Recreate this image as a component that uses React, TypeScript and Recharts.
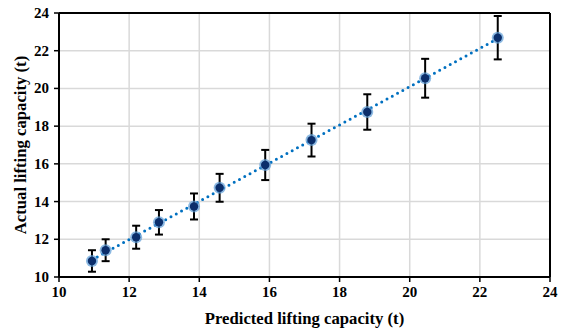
import React from "react";
import {
  ScatterChart,
  Scatter,
  XAxis,
  YAxis,
  CartesianGrid,
  ErrorBar,
  ReferenceLine,
} from "recharts";

const predicted = [10.94, 11.33, 12.2, 12.85, 13.85, 14.58, 15.88, 17.2, 18.79, 20.44, 22.51];
const actual = [10.85, 11.42, 12.11, 12.9, 13.74, 14.73, 15.94, 17.26, 18.75, 20.54, 22.69];
const errors = [0.57, 0.58, 0.61, 0.65, 0.69, 0.74, 0.8, 0.87, 0.94, 1.03, 1.15];
const ticks = [10, 12, 14, 16, 18, 20, 22, 24];

const data = predicted.map((x, i) => ({ x, y: actual[i], err: errors[i] }));

// linear trendline through the points (least squares)
const n = predicted.length;
const mx = predicted.reduce((a, b) => a + b, 0) / n;
const my = actual.reduce((a, b) => a + b, 0) / n;
let sxy = 0;
let sxx = 0;
predicted.forEach((x, i) => {
  sxy += (x - mx) * (actual[i] - my);
  sxx += (x - mx) * (x - mx);
});
const slope = sxy / sxx;
const intercept = my - slope * mx;
const x0 = Math.min(...predicted);
const x1 = Math.max(...predicted);

const font = "'Liberation Serif', 'Times New Roman', serif";
const tickText = { fontFamily: font, fontSize: 15, fontWeight: 700, fill: "#000" };

const XTick = (props: any) => {
  const { x, y, payload } = props;
  return (
    <text x={x} y={y + 13} textAnchor="middle" style={tickText}>
      {payload.value}
    </text>
  );
};

const YTick = (props: any) => {
  const { x, y, payload } = props;
  return (
    <text x={x - 3} y={y + 5} textAnchor="end" style={tickText}>
      {payload.value}
    </text>
  );
};

const Dot = (props: any) => {
  const { cx, cy } = props;
  if (cx == null || cy == null) return null;
  return (
    <g>
      <circle cx={cx} cy={cy} r={6} fill="#5B9BD5" opacity={0.7} />
      <circle cx={cx} cy={cy} r={4.2} fill="#0B2E6B" />
    </g>
  );
};

export default function App() {
  return (
    <div style={{ position: "absolute", left: 0, top: 0, width: 561, height: 328, background: "#fff" }}>
      <ScatterChart width={561} height={328} margin={{ top: 13, right: 11, bottom: 0, left: 0 }}>
        <CartesianGrid stroke="#d9d9d9" strokeWidth={1.5} />
        <XAxis
          type="number"
          dataKey="x"
          domain={[10, 24]}
          ticks={ticks}
          interval={0}
          height={51}
          tick={<XTick />}
          tickSize={5}
          axisLine={{ stroke: "#000", strokeWidth: 2 }}
          tickLine={{ stroke: "#000", strokeWidth: 1.5 }}
          label={{
            value: "Predicted lifting capacity (t)",
            position: "insideBottom",
            offset: 4,
            style: { fontFamily: font, fontSize: 16.7, fontWeight: "bold", fill: "#000" },
          }}
        />
        <YAxis
          type="number"
          dataKey="y"
          domain={[10, 24]}
          ticks={ticks}
          interval={0}
          width={59}
          tick={<YTick />}
          tickSize={5}
          axisLine={{ stroke: "#000", strokeWidth: 2 }}
          tickLine={{ stroke: "#000", strokeWidth: 1.5 }}
          label={{
            value: "Actual lifting capacity (t)",
            angle: -90,
            position: "insideLeft",
            offset: 20,
            style: { fontFamily: font, fontSize: 16.7, fontWeight: "bold", fill: "#000", textAnchor: "middle" },
          }}
        />
        <ReferenceLine y={24} stroke="#000" strokeWidth={2} />
        <ReferenceLine x={24} stroke="#000" strokeWidth={2} />
        <ReferenceLine
          segment={[
            { x: x0, y: slope * x0 + intercept },
            { x: x1, y: slope * x1 + intercept },
          ]}
          stroke="#0070C0"
          strokeWidth={3}
          strokeDasharray="0 6"
          strokeLinecap="round"
        />
        <Scatter data={data} shape={Dot} isAnimationActive={false}>
          <ErrorBar dataKey="err" direction="y" width={4} stroke="#000" strokeWidth={2} />
        </Scatter>
      </ScatterChart>
    </div>
  );
}
